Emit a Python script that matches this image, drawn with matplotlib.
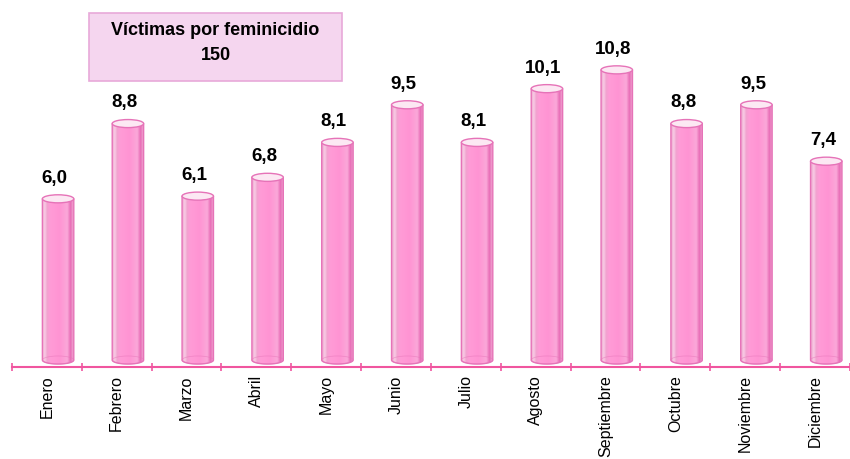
import numpy as np
import matplotlib
matplotlib.use("Agg")
import matplotlib.pyplot as plt
from matplotlib.patches import Ellipse, Rectangle, PathPatch
from matplotlib.path import Path
from matplotlib.colors import LinearSegmentedColormap

plt.rcParams['font.family'] = ['Liberation Sans', 'DejaVu Sans']

meses = ['Enero', 'Febrero', 'Marzo', 'Abril', 'Mayo', 'Junio', 'Julio',
         'Agosto', 'Septiembre', 'Octubre', 'Noviembre', 'Diciembre']
tasas = [6.0, 8.8, 6.1, 6.8, 8.1, 9.5, 8.1, 10.1, 10.8, 8.8, 9.5, 7.4]
etiquetas = ['6,0', '8,8', '6,1', '6,8', '8,1', '9,5', '8,1', '10,1', '10,8', '8,8', '9,5', '7,4']
titulo = 'Víctimas por feminicidio\n150'

rosa_borde = '#E673B8'
rosa_eje = '#F0559F'
cmap = LinearSegmentedColormap.from_list('cil', [
    (0.0, '#F0A6D0'), (0.08, '#F8CCE4'), (0.16, '#F2A0CF'), (0.25, '#FF9CD7'),
    (0.55, '#FF94D3'), (0.80, '#FBA8D9'), (0.90, '#E86CB6'), (1.0, '#F2B0D6')])

fig = plt.figure(figsize=(8.5, 4.59), dpi=100)
ax = fig.add_axes([12 / 850, 92 / 459, 838 / 850, 367 / 459])

ancho = 0.45
alto_el = 0.30
desp = 0.16
grad = np.linspace(0, 1, 64).reshape(1, -1)

for i, v in enumerate(tasas):
    cx = i + desp
    x0, x1 = cx - ancho / 2, cx + ancho / 2
    t = np.linspace(np.pi, 2 * np.pi, 40)
    bx = cx + ancho / 2 * np.cos(t)
    by = alto_el / 2 * np.sin(t)
    verts = list(zip(bx, by)) + [(x1, v), (x0, v), (x0, 0)]
    path = Path(verts + [verts[0]], [Path.MOVETO] + [Path.LINETO] * (len(verts) - 1) + [Path.CLOSEPOLY])
    body = PathPatch(path, facecolor='none', edgecolor=rosa_borde, lw=1.0, zorder=3)
    ax.add_patch(body)
    im = ax.imshow(grad, cmap=cmap, extent=(x0, x1, -alto_el / 2, v), aspect='auto', zorder=2)
    im.set_clip_path(body)
    ax.add_patch(Ellipse((cx, 0), ancho, alto_el, facecolor='none', edgecolor=rosa_borde,
                         lw=0.6, alpha=0.5, zorder=3))
    ax.add_patch(Ellipse((cx, v), ancho, alto_el, facecolor='#FCE8F3', edgecolor=rosa_borde,
                         lw=1.0, zorder=4))
    ax.text(cx - 0.05, v + 0.45, etiquetas[i], ha='center', va='bottom', fontsize=13.5,
            fontweight='bold', color='black', zorder=5)

ax.set_xlim(-0.5, 11.37)
ax.set_ylim(-0.26, 13.4)
ax.set_xticks(np.arange(-0.5, 12, 1))
ax.set_xticks(np.arange(len(meses)), minor=True)
ax.set_xticklabels([])
ax.set_xticklabels(meses, minor=True, rotation=90, fontsize=11.5)
ax.tick_params(axis='x', which='major', direction='inout', length=6, width=1.2, color=rosa_eje)
ax.tick_params(axis='x', which='minor', length=0, pad=6)
ax.set_yticks([])
for s in ['top', 'right', 'left']:
    ax.spines[s].set_visible(False)
ax.spines['bottom'].set_color(rosa_eje)
ax.spines['bottom'].set_linewidth(1.5)

fig.patches.append(Rectangle((89 / 850, 1 - 81 / 459), 253 / 850, 68 / 459,
                             transform=fig.transFigure, facecolor='#F5D6EF',
                             edgecolor='#E8A9D9', lw=1.2, zorder=1))
fig.text(215.5 / 850, 1 - 43 / 459, titulo, ha='center', va='center', fontsize=13,
         fontweight='bold', linespacing=1.55)

fig.savefig('out.png', dpi=100)
